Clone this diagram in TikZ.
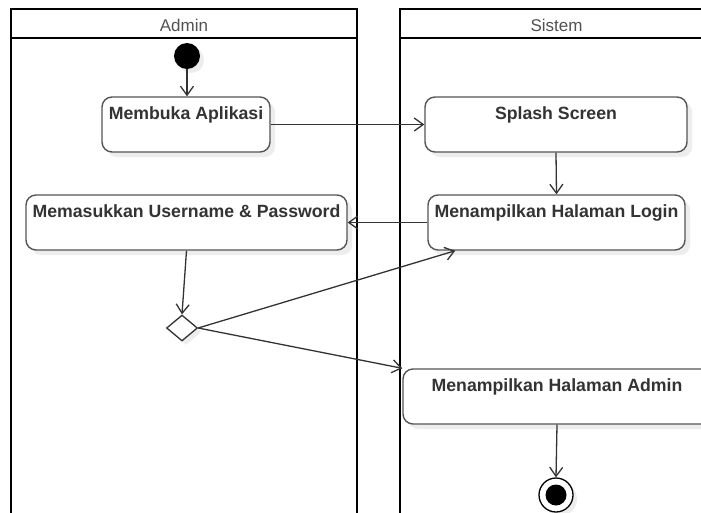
\documentclass[tikz,border=0pt]{standalone}
\usepackage{fontspec}
\setmainfont{Liberation Sans}
\usetikzlibrary{arrows.meta,shapes.geometric,shadows}
\definecolor{ink}{HTML}{333333}
\definecolor{edge}{HTML}{555555}
\begin{document}
\begin{tikzpicture}[x=1pt,y=-1pt,
  lane/.style={draw=black,line width=2.2pt},
  act/.style={draw=edge,line width=1.4pt,rounded corners=10pt,fill=white,
    minimum height=55pt,inner sep=0pt,
    drop shadow={shadow xshift=5pt,shadow yshift=-5pt,opacity=1,fill=black!7}},
  lbl/.style={anchor=north,yshift=-6.5pt,text=ink,font=\bfseries\fontsize{17.7}{20}\selectfont},
  hdr/.style={text=ink!85,font=\fontsize{17}{20}\selectfont},
  flow/.style={draw=ink,line width=1.3pt,-{Straight Barb[length=9pt,width=13pt,line width=1.3pt]}},
]
\useasboundingbox (0,0) rectangle (701,512);
\clip (0,0) rectangle (701,512);
\fill[white] (0,0) rectangle (701,512);
% lanes
\draw[lane] (11,9) rectangle (357,530);
\draw[lane] (11,38) -- (357,38);
\node[hdr] (hA) at (184,25) {Admin};
\draw[lane] (400,9) rectangle (713,530);
\draw[lane] (400,38) -- (713,38);
\node[hdr] (hS) at (556.5,25) {Sistem};
% nodes
\node[circle,fill=black,minimum size=26pt,inner sep=0pt,
  drop shadow={shadow xshift=4pt,shadow yshift=-4pt,opacity=1,fill=black!7}] (start) at (187,56) {};
\node[act,minimum width=168pt,label={[lbl]north:Membuka Aplikasi}] (a1) at (186,124.5) {};
\node[act,minimum width=262pt,label={[lbl]north:Splash Screen}] (a2) at (556,124.5) {};
\node[act,minimum width=257pt,label={[lbl]north:Menampilkan Halaman Login}] (a3) at (556.5,222.5) {};
\node[act,minimum width=321pt,label={[lbl]north:Memasukkan Username \& Password}] (a4) at (186.5,222.5) {};
\node[diamond,draw=ink,line width=1.3pt,fill=white,minimum width=31pt,minimum height=26pt,inner sep=0pt,aspect=1.2,
  drop shadow={shadow xshift=4pt,shadow yshift=-4pt,opacity=1,fill=black!7}] (d) at (182,328) {};
\node[act,minimum width=308pt,label={[lbl]north:Menampilkan Halaman Admin}] (a5) at (557,396.5) {};
\node[circle,draw=black,line width=1.3pt,fill=white,minimum size=34pt,inner sep=0pt,
  drop shadow={shadow xshift=4pt,shadow yshift=-4pt,opacity=1,fill=black!7}] (end) at (556,495) {};
\node[circle,fill=black,minimum size=21pt,inner sep=0pt] (endin) at (end.center) {};
% flows
\draw[flow] (start.south) -- (start.south |- a1.north);
\draw[flow] (a1.east) -- (a2.west);
\draw[flow] (a2.south) -- (a3.north);
\draw[flow] (a3.west) -- (a4.east);
\draw[flow] (a4.south) -- (d.north);
\draw[flow] (d.east) -- ([xshift=28pt]a3.south west);
\draw[flow] (d.east) -- (a5.north west);
\draw[flow] (a5.south) -- (end.north);
\end{tikzpicture}
\end{document}
